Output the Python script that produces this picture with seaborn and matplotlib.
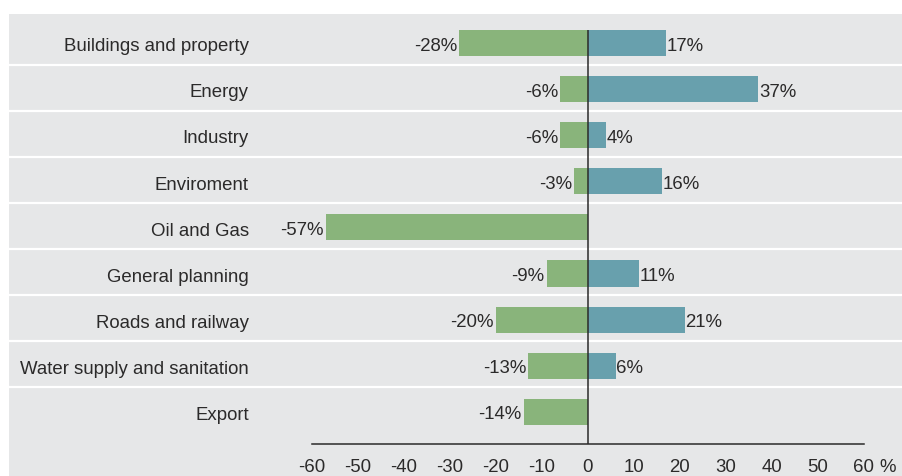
import pandas as pd
import numpy as np
import matplotlib.pyplot as plt
import seaborn as sns

# data
categories = ['Buildings and property', 'Energy', 'Industry', 'Enviroment', 'Oil and Gas',
              'General planning', 'Roads and railway', 'Water supply and sanitation', 'Export']
decline = [-28, -6, -6, -3, -57, -9, -20, -13, -14]
growth = [17, 37, 4, 16, None, 11, 21, 6, None]
xticks = [-60, -50, -40, -30, -20, -10, 0, 10, 20, 30, 40, 50, 60]

rows = []
for c, d, g in zip(categories, decline, growth):
    rows.append({'category': c, 'series': 'Decline', 'value': d})
    if g is not None:
        rows.append({'category': c, 'series': 'Growth', 'value': g})
df = pd.DataFrame(rows)

bg = '#e6e7e8'
txt = '#2b2a2a'
green = '#89b47b'
blue = '#68a0ad'
fs = 13.4

sns.set_style('white')
plt.rcParams['font.family'] = ['Liberation Sans', 'DejaVu Sans']

fig = plt.figure(figsize=(9.03, 4.77), dpi=100)
fig.patch.set_facecolor('white')
# grey panel covers everything except a thin white margin top and left
ax = fig.add_axes([9 / 903, 0, 894 / 903, 462 / 477])
ax.set_facecolor(bg)

sns.barplot(data=df, y='category', x='value', hue='series', order=categories,
            palette={'Decline': green, 'Growth': blue}, dodge=False, width=0.565,
            saturation=1, linewidth=0, edgecolor='none',
            errorbar=None, legend=False, ax=ax)

# pixel scale: 0 at x=588, 4.6 px per percent; rows 46.1 px apart
x0, unit = 588, 4.6
ax.set_xlim((9 - x0) / unit, (903 - x0) / unit)
ax.set_ylim(9.393, -0.629)

# white row separators
ax.hlines(np.arange(len(categories) - 1) + 0.47, *ax.get_xlim(), color='white', lw=1.6, zorder=1)
for p in ax.patches:
    p.set_zorder(2)

# zero line and bottom axis
axis_y = 8.70
ax.vlines(0, -0.283, axis_y, color=txt, lw=1.1, zorder=3)
for s in ['top', 'right', 'left']:
    ax.spines[s].set_visible(False)
ax.spines['bottom'].set_position(('data', axis_y))
ax.spines['bottom'].set_bounds(-60, 60)
ax.spines['bottom'].set_color(txt)
ax.spines['bottom'].set_linewidth(1.1)
ax.set_xticks(xticks)
ax.set_xticklabels([str(t) for t in xticks])
tick_pad = 10
ax.tick_params(axis='x', length=0, pad=tick_pad, labelsize=fs, labelcolor=txt)
ax.set_yticks([])
ax.set_xlabel('')
ax.set_ylabel('')
ax.annotate('%', xy=((879 - x0) / unit, axis_y), xytext=(0, -tick_pad), textcoords='offset points',
            ha='left', va='top', fontsize=fs, color=txt)

# category labels, right-aligned inside the grey panel
for i, c in enumerate(categories):
    ax.text((249 - x0) / unit, i + 0.06, c, ha='right', va='center', fontsize=fs, color=txt)

# value labels
for cont in ax.containers:
    vals = cont.datavalues
    pad = 1.5 if vals[0] < 0 else 0.5
    anns = ax.bar_label(cont, labels=[f'{v:.0f}%' for v in vals], padding=pad,
                        fontsize=fs, color=txt)
    for a in anns:
        a.xyann = (a.xyann[0], -1.5)

fig.savefig('out.png', dpi=100, facecolor='white')
